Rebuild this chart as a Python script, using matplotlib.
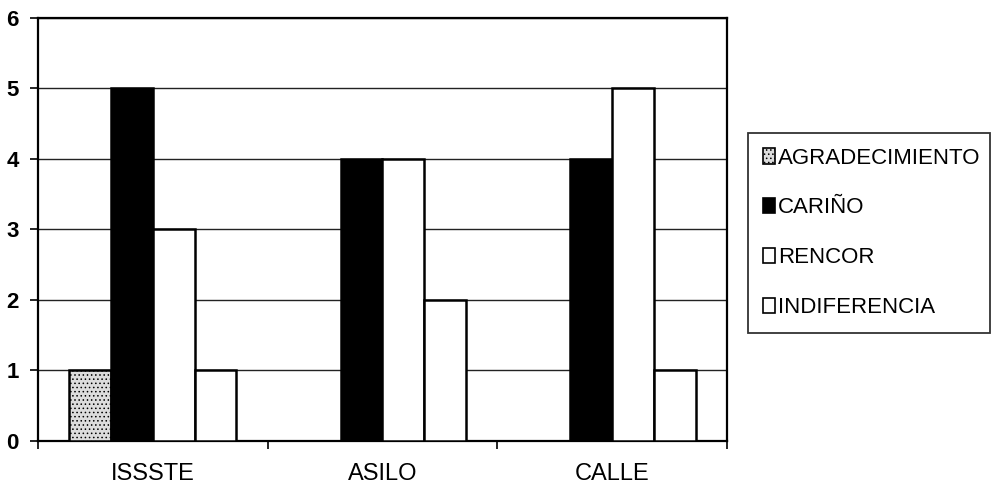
import matplotlib
matplotlib.use("Agg")
import matplotlib.pyplot as plt
import numpy as np

categories = ["ISSSTE", "ASILO", "CALLE"]
series_names = ["AGRADECIMIENTO", "CARIÑO", "RENCOR", "INDIFERENCIA"]
agradecimiento = [1, 0, 0]
carino = [5, 4, 4]
rencor = [3, 4, 5]
indiferencia = [1, 2, 1]
y_ticks = [0, 1, 2, 3, 4, 5, 6]

series_values = [agradecimiento, carino, rencor, indiferencia]
faces = ["#dcdcdc", "black", "white", "white"]
hatches = ["....", None, None, None]

plt.rcParams["font.family"] = ["Liberation Sans", "DejaVu Sans"]
plt.rcParams["hatch.linewidth"] = 0.6

fig = plt.figure(figsize=(9.91, 4.86), dpi=100)
ax = fig.add_axes([0.0383, 0.0926, 0.6953, 0.8704])

n = len(series_names)
width = 1 / (n + 1.5)
centers = np.arange(len(categories)) + 0.5
for i, (name, vals) in enumerate(zip(series_names, series_values)):
    offs = (i - (n - 1) / 2) * width
    ax.bar(centers + offs, vals, width=width, color=faces[i], edgecolor="black",
           linewidth=1.8, hatch=hatches[i], label=name, zorder=3)

ax.set_xlim(0, len(categories))
ax.set_ylim(0, 6)
ax.set_yticks(y_ticks)
ax.set_yticklabels([str(t) for t in y_ticks], fontsize=16, fontweight="bold")
ax.yaxis.grid(True, color="#222222", linewidth=1.0, zorder=0)

# boundaries between groups carry the tick marks, names sit centred below
ax.set_xticks(np.arange(len(categories) + 1))
ax.set_xticklabels([""] * (len(categories) + 1))
ax.set_xticks(centers, minor=True)
ax.set_xticklabels(categories, minor=True,
                   fontfamily=["Liberation Sans Narrow", "Liberation Sans", "DejaVu Sans"],
                   fontsize=17)
ax.tick_params(axis="x", which="minor", length=0, pad=16)
ax.tick_params(axis="x", which="major", length=6, width=1.2, direction="out")
ax.tick_params(axis="y", length=6, width=1.2, direction="out", pad=8)

for s in ax.spines.values():
    s.set_color("black")
    s.set_linewidth(1.6)

leg = ax.legend(loc="upper left", bbox_to_anchor=(0.755, 0.325, 0.244, 0.401),
                bbox_transform=fig.transFigure, mode="expand", borderaxespad=0,
                frameon=True, fancybox=False, edgecolor="black", fontsize=16,
                handlelength=0.55, handleheight=0.7, handletextpad=0.15,
                labelspacing=1.3, borderpad=0.65)
leg.get_frame().set_linewidth(1.3)
for h in leg.legend_handles:
    h.set_linewidth(1.2)

fig.savefig("out.png", dpi=100)
